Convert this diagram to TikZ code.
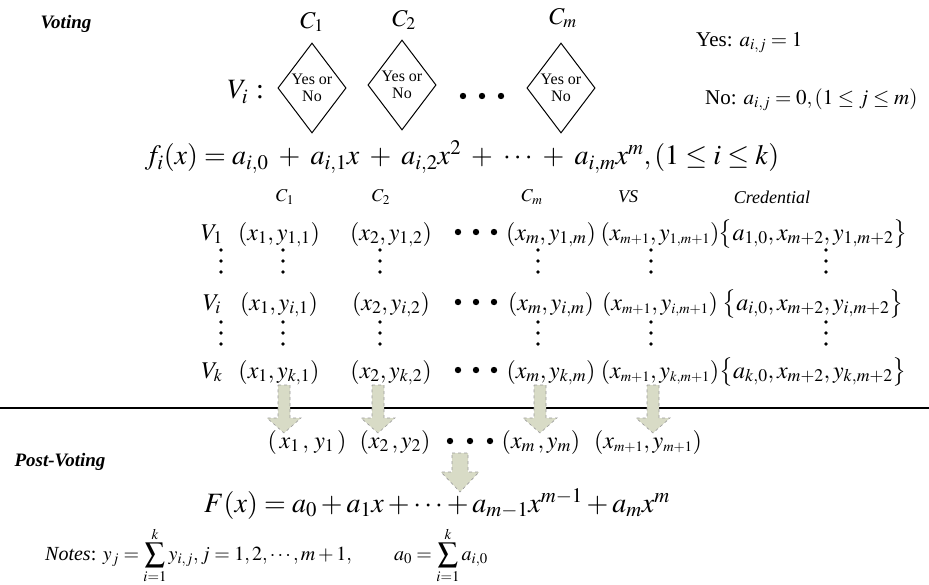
\documentclass[tikz,border=0pt]{standalone}
\usepackage{mathptmx}
\usepackage[no-math]{fontspec}
\setmainfont{Liberation Serif}
\usepackage{tikz}
\usetikzlibrary{shapes.geometric,calc,positioning}
\definecolor{arrfill}{HTML}{D8DBC6}
\definecolor{arrline}{HTML}{9A9A9A}

% block arrow: start, tip, half shaft, half head, head length
\newcommand{\fatdown}[5]{%
  \draw[fat] let \p1=(#1), \p2=(#2) in
    (\x1-#3,\y1) -- (\x1+#3,\y1) -- (\x1+#3,\y2+#5) -- (\x1+#4,\y2+#5)
    -- (\x1,\y2) -- (\x1-#4,\y2+#5) -- (\x1-#3,\y2+#5) -- cycle;}
% tight subscript
\newcommand{\tsub}[1]{{\scriptscriptstyle #1}}

\begin{document}
\begin{tikzpicture}[x=1pt, y=-1pt,
  big/.style={font=\fontsize{28}{32}\selectfont, inner sep=0pt},
  cell/.style={font=\fontsize{24}{28}\selectfont, anchor=base, inner sep=0pt},
  hdr/.style={font=\fontsize{18}{20}\selectfont\itshape, inner sep=0pt},
  top/.style={font=\fontsize{24}{28}\selectfont, inner sep=0pt},
  phase/.style={font=\fontsize{19}{22}\selectfont\bfseries\itshape, inner sep=0pt},
  rule/.style={font=\fontsize{21}{24}\selectfont, inner sep=0pt, anchor=west},
  vote/.style={diamond, draw, line width=1pt, minimum width=60pt, minimum height=90pt, inner sep=0pt, align=center, font=\fontsize{16}{17}\selectfont},
  fat/.style={draw=arrline, dashed, fill=arrfill, line width=0.6pt}
]
\useasboundingbox (0,0) rectangle (929,584);

% voting phase
\node[phase] (voting) at (66,24) {Voting};
\node[top] (c1) at (312,22) {$C_1$};
\node[top] (c2) at (404,20) {$C_2$};
\node[top] (cm) at (563,18) {$C_m$};
\node[top, anchor=east, font=\fontsize{28}{30}\selectfont] (vi) at (264,92) {$V_i$\hspace{8pt}:};
\node[vote] (d1) at (312,88) {Yes or\\No};
\node[vote] (d2) at (402,85) {Yes or\\No};
\node[vote] (dm) at (561,88) {Yes or\\No};
\foreach \dx in {463,482,501} \fill (\dx,96) circle (3.2pt);
\node[rule] (yes) at (696,43) {Yes: $a_{i,j} = 1$};
\node[rule] (no) at (705,100) {No: $a_{i,j} = 0,(1\le j\le m)$};
\node[big] (fi) at (462,157) {$f_i(x) = a_{i,0} \;+\; a_{i,1}x \;+\; a_{i,2}x^{2} \;+\; \cdots \;+\; a_{i,m}x^{m},(1 \le i \le k)$};

% share table
\node[hdr] (h1) at (285,197) {$C_1$};
\node[hdr] (h2) at (381,197) {$C_2$};
\node[hdr] (hm) at (532,197) {$C_m$};
\node[hdr] (hvs) at (628,197) {VS};
\node[hdr] (hcr) at (772,197) {Credential};

\node[cell] (v1) at (212,240) {$V_1$};
\node[cell] (s11) at (279,240) {$(x_1, y_{1,1})$};
\node[cell] (s12) at (391,240) {$(x_2, y_{1,2})$};
\node[cell] (s1m) at (551,240) {$(x_m, y_{1,m})$};
\node[cell] (s1vs) at (660,240) {$(x_{\tsub{m+1}},y_{\tsub{1,m+1}})$};
\node[cell] (s1cr) at (813,240) {$\big\{a_{1,0}, x_{m{+}2}, y_{1,m{+}2}\big\}$};

\node[cell] (vi2) at (212,310) {$V_i$};
\node[cell] (si1) at (279,310) {$(x_1, y_{i,1})$};
\node[cell] (si2) at (391,310) {$(x_2, y_{i,2})$};
\node[cell] (sim) at (551,310) {$(x_m, y_{i,m})$};
\node[cell] (sivs) at (660,310) {$(x_{\tsub{m+1}},y_{\tsub{i,m+1}})$};
\node[cell] (sicr) at (813,310) {$\big\{a_{i,0}, x_{m{+}2}, y_{i,m{+}2}\big\}$};

\node[cell] (vk) at (212,378) {$V_k$};
\node[cell] (sk1) at (279,378) {$(x_1, y_{k,1})$};
\node[cell] (sk2) at (391,378) {$(x_2, y_{k,2})$};
\node[cell] (skm) at (551,378) {$(x_m, y_{k,m})$};
\node[cell] (skvs) at (660,378) {$(x_{\tsub{m+1}},y_{\tsub{k,m+1}})$};
\node[cell] (skcr) at (813,378) {$\big\{a_{k,0}, x_{m{+}2}, y_{k,m{+}2}\big\}$};

\foreach \cx in {221,283,380,538,651,826}
  \foreach \cy in {250,322}
    \foreach \d in {0,11,22} \fill (\cx,\cy+\d) circle (1.9pt);
\foreach \cy in {232,302,370}
  \foreach \dx in {458,476,494} \fill (\dx,\cy) circle (3.2pt);

\draw[line width=2.8pt] (0,408) -- (929,408);

% post-voting phase
\node[phase] (post) at (60,462) {Post-Voting};
\node[cell] (p1) at (307,448) {$(\,x_1\,,\,y_1\,)$};
\node[cell] (p2) at (395,448) {$(x_2\,, y_2)$};
\node[cell] (pm) at (541,448) {$(x_m\,, y_m)$};
\node[cell] (pvs) at (648,448) {$(x_{\tsub{m+1}},y_{\tsub{m+1}})$};
\foreach \dx in {450,470,490} \fill (\dx,441) circle (3.2pt);
\node[big] (F) at (437,504) {$F(x) = a_0 + a_1x + \cdots + a_{m-1}x^{m-1} + a_m x^m$};
\node[font=\fontsize{20}{22}\selectfont, inner sep=0pt, anchor=west] (notes) at (45,555)
  {\textit{Notes}: $y_j = \displaystyle\sum_{i=1}^{k} y_{i,j}, j=1,2,\cdots,m+1,\qquad a_0 = \sum_{i=1}^{k} a_{i,0}$};

\coordinate (a1) at (284,385); \coordinate (t1) at (284,433);
\coordinate (a2) at (378,385); \coordinate (t2) at (378,433);
\coordinate (am) at (540,385); \coordinate (tm) at (540,433);
\coordinate (avs) at (653,385); \coordinate (tvs) at (653,433);
\coordinate (ap) at (460,453); \coordinate (tp) at (460,492);
\fatdown{a1}{t1}{6pt}{17pt}{15pt}
\fatdown{a2}{t2}{6pt}{17pt}{15pt}
\fatdown{am}{tm}{6pt}{17pt}{15pt}
\fatdown{avs}{tvs}{6pt}{17pt}{15pt}
\fatdown{ap}{tp}{8pt}{19pt}{20pt}
\end{tikzpicture}
\end{document}
